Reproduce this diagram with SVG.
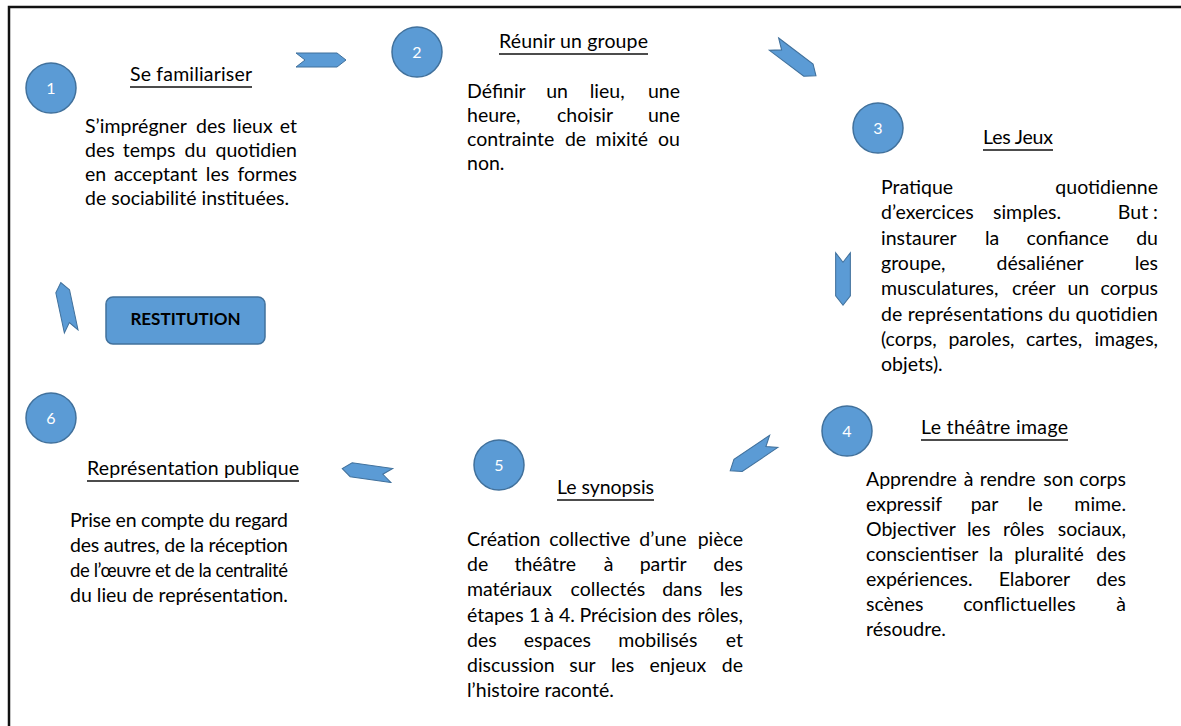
<svg xmlns="http://www.w3.org/2000/svg" xmlns:xlink="http://www.w3.org/1999/xlink" width="1181" height="726" viewBox="0 0 1181 726">
<style>
.t{font-family:Lato,"Liberation Sans",sans-serif;font-size:19.5px;fill:#000}
.e{text-anchor:end}
.h{font-family:Lato,"Liberation Sans",sans-serif;font-size:19.5px;fill:#000;text-anchor:middle}
.ul{stroke:#111;stroke-width:1.6}
.c{fill:#5B9BD5;stroke:#41719C;stroke-width:1.5}
.n{font-family:Lato,"Liberation Sans",sans-serif;font-size:16px;fill:#fff;text-anchor:middle}
.ar{fill:#5B9BD5;stroke:#41719C;stroke-width:1}
</style>
<defs>
<path id="chev" d="M-25,-7 H16 L25,0 L16,7 H-25 L-16,0 Z"/>
</defs>
<rect width="1181" height="726" fill="#fff"/>
<path d="M9,726 V7 H1181" fill="none" stroke="#111" stroke-width="2.5"/>

<g id="connectors">
<use xlink:href="#chev" class="ar" transform="translate(321,60)"/>
<use xlink:href="#chev" class="ar" transform="translate(795,60) rotate(37) scale(1.05,1.1)"/>
<use xlink:href="#chev" class="ar" transform="translate(843,279) rotate(90) scale(1.05,1.05)"/>
<use xlink:href="#chev" class="ar" transform="translate(752,456) rotate(146) scale(1.05,1.05)"/>
<use xlink:href="#chev" class="ar" transform="translate(367,472) rotate(188)"/>
<use xlink:href="#chev" class="ar" transform="translate(66,307) rotate(258)"/>
</g>

<g id="node1">
<circle class="c" cx="51" cy="88" r="25"/>
<text class="n" x="51" y="94">1</text>
<text class="h" x="191" y="81" textLength="122">Se familiariser</text>
<line class="ul" x1="130" y1="87" x2="252" y2="87"/>
<text class="t" x="85" y="133">S’imprégner</text><text class="t" x="196" y="133">des</text><text class="t" x="232.5" y="133">lieux</text><text class="t e" x="297" y="133">et</text>
<text class="t" x="85" y="157">des</text><text class="t" x="122.8" y="157">temps</text><text class="t" x="184.5" y="157">du</text><text class="t e" x="297" y="157">quotidien</text>
<text class="t" x="85" y="181">en</text><text class="t" x="113.9" y="181">acceptant</text><text class="t" x="205.8" y="181">les</text><text class="t e" x="297" y="181">formes</text>
<text class="t" x="85" y="205">de sociabilité instituées.</text>
</g>

<g id="node2">
<circle class="c" cx="417" cy="52" r="25"/>
<text class="n" x="417" y="58">2</text>
<text class="h" x="573.5" y="48" textLength="149">Réunir un groupe</text>
<line class="ul" x1="499" y1="54" x2="648" y2="54"/>
<text class="t" x="467" y="98">Définir</text><text class="t" x="546.2" y="98">un</text><text class="t" x="589.7" y="98">lieu,</text><text class="t e" x="680" y="98">une</text>
<text class="t" x="467" y="122">heure,</text><text class="t" x="557" y="122">choisir</text><text class="t e" x="680" y="122">une</text>
<text class="t" x="467" y="146">contrainte</text><text class="t" x="564.9" y="146">de</text><text class="t" x="595.6" y="146">mixité</text><text class="t e" x="680" y="146">ou</text>
<text class="t" x="467" y="170">non.</text>
</g>

<g id="node3">
<circle class="c" cx="878" cy="128" r="25"/>
<text class="n" x="878" y="134">3</text>
<text class="h" x="1018" y="144" textLength="70">Les Jeux</text>
<line class="ul" x1="983" y1="150" x2="1053" y2="150"/>
<text class="t" x="881" y="194">Pratique</text><text class="t e" x="1158" y="194">quotidienne</text>
<text class="t" x="881" y="219">d’exercices</text><text class="t" x="993" y="219">simples.</text><text class="t e" x="1158" y="219">But :</text>
<text class="t" x="881" y="245">instaurer</text><text class="t" x="985" y="245">la</text><text class="t" x="1026.6" y="245">confiance</text><text class="t e" x="1158" y="245">du</text>
<text class="t" x="881" y="270">groupe,</text><text class="t" x="996.5" y="270">désaliéner</text><text class="t e" x="1158" y="270">les</text>
<text class="t" x="881" y="295">musculatures,</text><text class="t" x="1012" y="295">créer</text><text class="t" x="1067.5" y="295">un</text><text class="t e" x="1158" y="295">corpus</text>
<text class="t" x="881" y="321" textLength="277">de représentations du quotidien</text>
<text class="t" x="881" y="346">(corps,</text><text class="t" x="948.4" y="346">paroles,</text><text class="t" x="1025.9" y="346">cartes,</text><text class="t e" x="1158" y="346">images,</text>
<text class="t" x="881" y="371">objets).</text>
</g>

<g id="node4">
<circle class="c" cx="847" cy="431" r="25"/>
<text class="n" x="847" y="437">4</text>
<text class="h" x="994.5" y="434" textLength="147">Le théâtre image</text>
<line class="ul" x1="921" y1="440" x2="1068" y2="440"/>
<text class="t" x="866" y="486">Apprendre</text><text class="t" x="963.7" y="486">à</text><text class="t" x="979.7" y="486">rendre</text><text class="t" x="1043.2" y="486">son</text><text class="t e" x="1126" y="486">corps</text>
<text class="t" x="866" y="511">expressif</text><text class="t" x="970.7" y="511">par</text><text class="t" x="1027.8" y="511">le</text><text class="t e" x="1126" y="511">mime.</text>
<text class="t" x="866" y="536">Objectiver</text><text class="t" x="967" y="536">les</text><text class="t" x="1003.1" y="536">rôles</text><text class="t e" x="1126" y="536">sociaux,</text>
<text class="t" x="866" y="561">conscientiser</text><text class="t" x="988.8" y="561">la</text><text class="t" x="1014.3" y="561">pluralité</text><text class="t e" x="1126" y="561">des</text>
<text class="t" x="866" y="586">expériences.</text><text class="t" x="998.7" y="586">Elaborer</text><text class="t e" x="1126" y="586">des</text>
<text class="t" x="866" y="611">scènes</text><text class="t" x="963.2" y="611">conflictuelles</text><text class="t e" x="1126" y="611">à</text>
<text class="t" x="866" y="636">résoudre.</text>
</g>

<g id="node5">
<circle class="c" cx="499" cy="465" r="25"/>
<text class="n" x="499" y="471">5</text>
<text class="h" x="605.5" y="494" textLength="97">Le synopsis</text>
<line class="ul" x1="557" y1="500" x2="654" y2="500"/>
<text class="t" x="467" y="546">Création</text><text class="t" x="549.3" y="546">collective</text><text class="t" x="639.3" y="546">d’une</text><text class="t e" x="743" y="546">pièce</text>
<text class="t" x="467" y="571">de</text><text class="t" x="514.4" y="571">théâtre</text><text class="t" x="603.7" y="571">à</text><text class="t" x="639.7" y="571">partir</text><text class="t e" x="743" y="571">des</text>
<text class="t" x="467" y="596">matériaux</text><text class="t" x="570.6" y="596">collectés</text><text class="t" x="662.2" y="596">dans</text><text class="t e" x="743" y="596">les</text>
<text class="t" x="467" y="622">étapes</text><text class="t" x="528.9" y="622">1</text><text class="t" x="544.2" y="622">à</text><text class="t" x="558.9" y="622">4.</text><text class="t" x="579.5" y="622">Précision</text><text class="t" x="661.6" y="622">des</text><text class="t e" x="743" y="622">rôles,</text>
<text class="t" x="467" y="647">des</text><text class="t" x="523.8" y="647">espaces</text><text class="t" x="618.2" y="647">mobilisés</text><text class="t e" x="743" y="647">et</text>
<text class="t" x="467" y="672">discussion</text><text class="t" x="569.3" y="672">sur</text><text class="t" x="610.9" y="672">les</text><text class="t" x="649.4" y="672">enjeux</text><text class="t e" x="743" y="672">de</text>
<text class="t" x="467" y="697">l’histoire raconté.</text>
</g>

<g id="node6">
<circle class="c" cx="51" cy="418" r="25"/>
<text class="n" x="51" y="424">6</text>
<text class="h" x="193" y="475" textLength="212">Représentation publique</text>
<line class="ul" x1="87" y1="481" x2="299" y2="481"/>
<text class="t" x="70" y="527" textLength="218">Prise en compte du regard</text>
<text class="t" x="70" y="552" textLength="218">des autres, de la réception</text>
<text class="t" x="70" y="577" textLength="218" style="font-size:18.5px">de l’œuvre et de la centralité</text>
<text class="t" x="70" y="602">du lieu de représentation.</text>
</g>

<g id="restitution">
<rect class="c" x="106" y="297" width="159" height="47" rx="7"/>
<text x="185.5" y="325" font-family="Lato,'Liberation Sans',sans-serif" font-size="17" font-weight="bold" fill="#000" text-anchor="middle">RESTITUTION</text>
</g>
</svg>
